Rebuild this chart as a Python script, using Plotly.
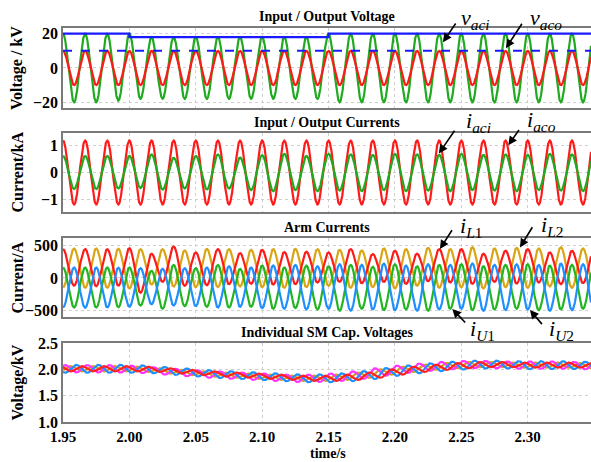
import numpy as np
import plotly.graph_objects as go

# ---------------------------------------------------------------- data
F_LINE = 60.0                 # grid frequency, Hz
T_START, T_END = 1.95, 2.3477 # time window, s

# Panel 1: input / output voltage (kV) - extrema per cycle
VACI_PEAKS = [20, 20, 20, 20, 18, 18, 18, 18, 18, 18, 18, 18, 20,
              20, 20, 20, 20, 20, 20, 20, 20, 20, 20, 20, 20]
VACI_TROUGHS = [-20, -20, -19, -18, -18, -18, -18, -18, -18, -18, -18, -18,
                -20, -20, -20, -20, -20, -20, -20, -20, -20, -20, -20, -20]
VACO_PEAKS = [10, 10, 10, 10, 10, 10, 10, 10, 10, 10, 10, 10, 10,
              10, 10, 10, 10, 10, 10, 10, 10, 10, 10, 10, 10]
VACO_TROUGHS = [-10, -10, -10, -10, -10, -10, -10, -10, -10, -10, -10, -10,
                -10, -10, -10, -10, -10, -10, -10, -10, -10, -10, -10, -10]
VREF_TIMES = [1.95, 2.00, 2.15, 2.3477]
VREF_LEVELS = [20, 18, 20, 20]
VSET_LEVEL = 10

# Panel 2: input / output currents (kA)
IACI_PEAKS = [0.62, 0.62, 0.62, 0.62, 0.68, 0.55, 0.62, 0.68, 0.56, 0.65, 0.70,
              0.62, 0.70, 0.68, 0.66, 0.70, 0.68, 0.66, 0.70, 0.66, 0.68, 0.66,
              0.70, 0.68, 0.66]
IACI_TROUGHS = [-0.62, -0.62, -0.60, -0.58, -0.64, -0.60, -0.64, -0.60, -0.66,
                -0.70, -0.66, -0.70, -0.68, -0.70, -0.66, -0.70, -0.68, -0.70,
                -0.66, -0.68, -0.70, -0.66, -0.68, -0.70]
IACO_PEAKS = [1.20, 1.20, 1.20, 1.20, 1.20, 1.20, 1.20, 1.20, 1.20, 1.20, 1.20,
              1.20, 1.20, 1.20, 1.20, 1.20, 1.20, 1.20, 1.20, 1.20, 1.20, 1.20,
              1.20, 1.20, 1.20]
IACO_TROUGHS = [-1.20, -1.20, -1.20, -1.20, -1.20, -1.20, -1.20, -1.20, -1.20,
                -1.20, -1.20, -1.20, -1.20, -1.20, -1.20, -1.20, -1.20, -1.20,
                -1.20, -1.20, -1.20, -1.20, -1.20, -1.20]

# Panel 3: arm currents (A)
IL1_PEAKS = [441, 441, 441, 455, 370, 480, 390, 441, 380, 430, 395, 400, 390,
             441, 365, 415, 370, 441, 441, 370, 415, 441, 390, 415, 420]
IL1_TROUGHS = [-117, -125, -117, -225, -60, -120, -110, -95, -90, -100, -95, -70,
               -60, -80, -60, -90, -50, -70, -90, -60, -85, -70, -95, -80]
IL2_TROUGHS = [-143, -150, -150, -160, -100, -130, -140, -140, -130, -140, -150,
               -140, -120, -150, -140, -160, -120, -150, -140, -160, -140, -150,
               -130, -150, -140]
IL2_PEAKS = [450, 450, 445, 440, 440, 420, 445, 440, 430, 440, 445, 440, 430,
             420, 450, 440, 460, 440, 470, 450, 460, 450, 470, 450]
IU1_PEAKS = [160, 160, 160, 160, 110, 200, 150, 200, 140, 190, 160, 190, 180,
             200, 170, 210, 180, 200, 210, 180, 200, 210, 190, 200, 200]
IU1_TROUGHS = [-450, -450, -445, -420, -470, -430, -440, -450, -440, -470, -460,
               -480, -500, -470, -490, -480, -500, -470, -490, -480, -470, -490,
               -480, -470]
IU2_TROUGHS = [-450, -455, -450, -440, -400, -420, -430, -450, -440, -460, -470,
               -480, -470, -500, -480, -490, -500, -480, -470, -500, -490, -480,
               -500, -490, -500]
IU2_PEAKS = [160, 160, 155, 150, 140, 150, 160, 180, 160, 190, 200, 180, 210,
             200, 220, 190, 210, 200, 220, 200, 210, 200, 220, 210]

# Panel 4: SM capacitor voltages (kV) - cycle-mean level and ripple
CAP_LEVEL = [2.01, 2.01, 2.01, 2.00, 1.97, 1.94, 1.91, 1.89, 1.87, 1.85, 1.83,
             1.83, 1.85, 1.89, 1.95, 2.00, 2.04, 2.07, 2.09, 2.09, 2.08, 2.08,
             2.08, 2.07, 2.07]
CAP_NAMES = ["SM1", "SM2", "SM3", "SM4"]
CAP_RIPPLE = [0.050, 0.070, 0.075, 0.050]   # kV, peak
CAP_PHASE = [0.35, 0.10, 0.60, 0.85]        # cycle fraction of ripple peak
CAP_COLORS = ["#d4a017", "#ff33ff", "#1e90ff", "#ff2020"]

X_TICKS = [1.95, 2.00, 2.05, 2.10, 2.15, 2.20, 2.25, 2.30]


# ---------------------------------------------------------------- helpers
def extrema_wave(t, times, values):
    """Join successive extrema with half-cosine arcs."""
    times = np.asarray(times, float)
    values = np.asarray(values, float)
    idx = np.clip(np.searchsorted(times, t, side="right") - 1, 0, len(times) - 2)
    t0, t1 = times[idx], times[idx + 1]
    v0, v1 = values[idx], values[idx + 1]
    frac = np.clip((t - t0) / (t1 - t0), 0.0, 1.0)
    return v1 + (v0 - v1) * (1 + np.cos(np.pi * frac)) / 2


def interleave(first, second):
    out = []
    for i, a in enumerate(first):
        out.append(a)
        if i < len(second):
            out.append(second[i])
    return out


def cycle_wave(t, first, second):
    vals = interleave(first, second)
    times = T_START + np.arange(len(vals)) / (2 * F_LINE)
    return extrema_wave(t, times, vals)


def cap_wave(t, amp, phase):
    times, vals = [], []
    for k in range(-1, len(CAP_LEVEL)):
        lvl = CAP_LEVEL[min(max(k, 0), len(CAP_LEVEL) - 1)]
        times += [T_START + (k + phase) / F_LINE, T_START + (k + phase + 0.5) / F_LINE]
        vals += [lvl + amp, lvl - amp]
    return extrema_wave(t, times, vals)


t = np.linspace(T_START, T_END, 5000)

# ---------------------------------------------------------------- figure
SERIF = "Liberation Serif"
GREEN, RED, BLUE = "#1faa1f", "#ff1a1a", "#1a1aff"
ORANGE, SKY = "#d9a514", "#1e8fff"
GRID = "#cfcfcf"

fig = go.Figure()
W = 2.2

def add(x, y, color, axis, dash=None, shape="linear", width=W):
    fig.add_trace(go.Scatter(x=x, y=y, mode="lines", xaxis="x" + axis,
                             yaxis="y" + axis, line_shape=shape,
                             line=dict(color=color, width=width, dash=dash),
                             hoverinfo="skip", showlegend=False))

# panel 1
add(t, cycle_wave(t, VACI_PEAKS, VACI_TROUGHS), GREEN, "")
add(t, cycle_wave(t, VACO_PEAKS, VACO_TROUGHS), RED, "")
add(VREF_TIMES, VREF_LEVELS, BLUE, "", shape="hv")
add([T_START, T_END], [VSET_LEVEL, VSET_LEVEL], BLUE, "", dash="dash", width=2)
# panel 2
add(t, cycle_wave(t, IACO_PEAKS, IACO_TROUGHS), RED, "2")
add(t, cycle_wave(t, IACI_PEAKS, IACI_TROUGHS), GREEN, "2")
# panel 3
add(t, cycle_wave(t, IL2_TROUGHS, IL2_PEAKS), ORANGE, "3")
add(t, cycle_wave(t, IL1_PEAKS, IL1_TROUGHS), RED, "3")
add(t, cycle_wave(t, IU1_PEAKS, IU1_TROUGHS), "#22b522", "3")
add(t, cycle_wave(t, IU2_TROUGHS, IU2_PEAKS), SKY, "3")
# panel 4
for name, amp, ph, col in zip(CAP_NAMES, CAP_RIPPLE, CAP_PHASE, CAP_COLORS):
    add(t, cap_wave(t, amp, ph), col, "4")

# layout
domains = [[0.797, 1.0], [0.533, 0.7335], [0.2665, 0.467], [0.0, 0.2005]]
y_ranges = [[-23.3, 23.3], [-1.48, 1.48], [-595, 610], [1.0, 2.5]]
y_ticks = [[-20, 0, 20], [-1, 0, 1], [-500, 0, 500], [1.0, 1.5, 2.0, 2.5]]
y_fmt = [None, None, None, ".1f"]

tickfont = dict(family=SERIF, size=16, color="black", weight="bold")
layout = dict(width=591, height=462, margin=dict(l=63, r=0, t=28, b=40),
              plot_bgcolor="white", paper_bgcolor="white", showlegend=False)
for i in range(4):
    sfx = "" if i == 0 else str(i + 1)
    layout["xaxis" + sfx] = dict(
        domain=[0, 1], range=[T_START, T_END], anchor="y" + sfx,
        tickvals=X_TICKS, tickformat=".2f", showticklabels=(i == 3),
        showgrid=True, gridcolor=GRID, griddash="dot", gridwidth=1,
        showline=True, mirror=True, linecolor="#7a7a7a", linewidth=1.5,
        zeroline=False, ticks="", tickfont=dict(tickfont, size=15),
        matches=None if i == 0 else "x")
    layout["yaxis" + sfx] = dict(
        domain=domains[i], range=y_ranges[i], anchor="x" + sfx,
        tickvals=y_ticks[i], tickformat=y_fmt[i],
        showgrid=True, gridcolor=GRID, griddash="dot", gridwidth=1,
        showline=True, mirror=False, linecolor="#7a7a7a", linewidth=1.5,
        zeroline=False, ticks="", tickfont=tickfont)
fig.update_layout(**layout)

CENTER = dict(xanchor="center", yanchor="middle", showarrow=False,
              xref="paper", yref="paper")

# panel titles and axis titles
titles = ["Input / Output Voltage", "Input / Output Currents",
          "Arm Currents", "Individual SM Cap. Voltages"]
title_y = [1.028, 0.761, 0.494, 0.227]
ytitles = ["Voltage / kV", "Current/kA", "Current/A", "Voltage/kV"]
for i in range(4):
    fig.add_annotation(text="<b>%s</b>" % titles[i], x=0.5, y=title_y[i],
                       font=dict(family=SERIF, size=14, color="black"), **CENTER)
    fig.add_annotation(text="<b>%s</b>" % ytitles[i], x=-0.087,
                       y=sum(domains[i]) / 2, textangle=-90,
                       font=dict(family=SERIF, size=16, color="black"), **CENTER)
fig.add_annotation(text="<b>time/s</b>", x=0.502, y=-0.080,
                   font=dict(family=SERIF, size=14, color="black"), **CENTER)

# signal labels with arrows
labels = [
    ("<i>v</i><sub><i>aci</i></sub>", "", 2.2362, 15.0, 13.7, -20.3, 0.782, 1.023),
    ("<i>v</i><sub><i>aco</i></sub>", "", 2.2836, 11.5, 17.0, -26.0, 0.915, 1.023),
    ("<i>i</i><sub><i>aci</i></sub>", "2", 2.2331, 0.71, 16.7, -24.3, 0.786, 0.761),
    ("<i>i</i><sub><i>aco</i></sub>", "2", 2.2854, 1.02, 11.7, -16.7, 0.907, 0.764),
    ("<i>i</i><sub><i>L</i>1</sub>", "3", 2.2339, 441, 13.0, -20.3, 0.773, 0.495),
    ("<i>i</i><sub><i>L</i>2</sub>", "3", 2.2942, 466, 13.3, -21.7, 0.926, 0.497),
    ("<i>i</i><sub><i>U</i>1</sub>", "3", 2.2432, -472, 14.4, 15.0, 0.795, 0.2335),
    ("<i>i</i><sub><i>U</i>2</sub>", "3", 2.3017, -487, 13.3, 15.7, 0.945, 0.2335),
]
for text, ax_id, xt, yt, dx, dy, px, py in labels:
    fig.add_annotation(x=xt, y=yt, xref="x" + ax_id, yref="y" + ax_id,
                       text="", showarrow=True, ax=dx, ay=dy,
                       arrowhead=2, arrowsize=1.1, arrowwidth=1.6,
                       arrowcolor="black")
    fig.add_annotation(text=text, x=px, y=py,
                       font=dict(family=SERIF, size=22, color="black"), **CENTER)

fig.write_html("out.html")
